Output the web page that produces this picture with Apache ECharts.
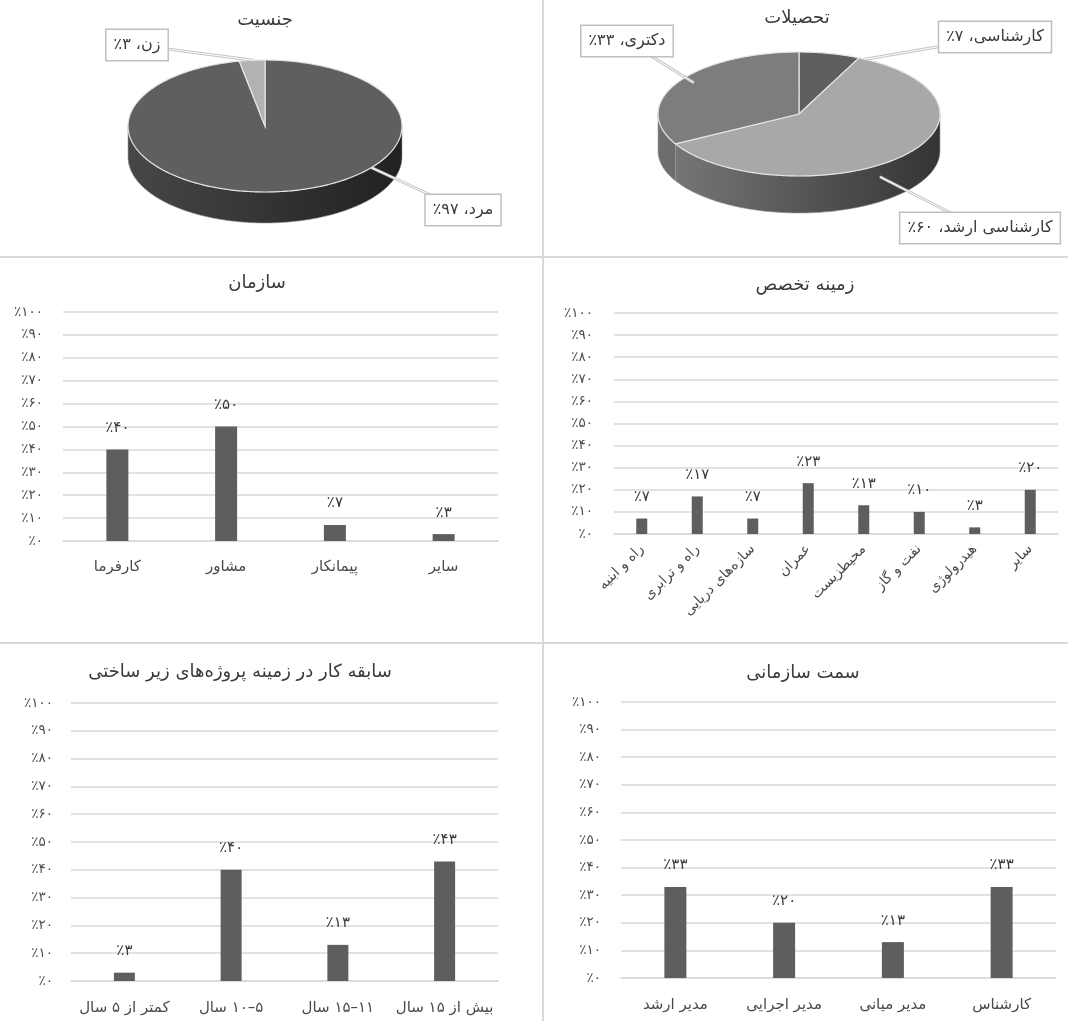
<!DOCTYPE html>
<html><head><meta charset="utf-8">
<script src="https://cdn.jsdelivr.net/npm/echarts@6/dist/echarts.min.js"></script>
<style>html,body{margin:0;padding:0;background:#fff}#c{width:1068px;height:1021px}</style>
</head><body><div id="c"></div>
<script>
const FONT = 'DejaVu Sans';

// ---- data ----
const genderCats = ['مرد', 'زن'];
const genderVals = [97, 3];
const eduCats = ['کارشناسی', 'کارشناسی ارشد', 'دکتری'];
const eduVals = [7, 60, 33];
const orgCats = ['کارفرما', 'مشاور', 'پیمانکار', 'سایر'];
const orgVals = [40, 50, 7, 3];
const fieldCats = ['راه و ابنیه', 'راه و ترابری', 'سازه‌های دریایی', 'عمران', 'محیطزیست', 'نفت و گاز', 'هیدرولوژی', 'سایر'];
const fieldVals = [7, 17, 7, 23, 13, 10, 3, 20];
const expCats = ['کمتر از ۵ سال', '\u200F۵–۱۰ سال', '\u200F۱۱–۱۵ سال', 'بیش از ۱۵ سال'];
const expVals = [3, 40, 13, 43];
const posCats = ['مدیر ارشد', 'مدیر اجرایی', 'مدیر میانی', 'کارشناس'];
const posVals = [33, 20, 13, 33];
const titles = ['جنسیت', 'تحصیلات', 'سازمان', 'زمینه تخصص', 'سابقه کار در زمینه پروژه‌های زیر ساختی', 'سمت سازمانی'];

function fa(n) { return String(n).replace(/\d/g, d => '۰۱۲۳۴۵۶۷۸۹'[+d]); }
function pct(n) { return '٪' + fa(n); }

// ---- layout / style (not data) ----
const genderGeom = {cx: 265, cy: 126, rx: 137, ry: 66, depth: 31};
const eduGeom = {cx: 799, cy: 114, rx: 141, ry: 62, depth: 37};
const genderStyle = {
  top: ['#5f5f5f', '#b2b2b2'],
  side: [['#474747', '#212121'], ['#8a8a8a', '#8a8a8a']],
  labels: [{ang: 129, frac: 1, drop: 0, box: [463, 210]}, {ang: 355, frac: 1, drop: 0, box: [137, 45]}]
};
const eduStyle = {
  top: ['#5f5f5f', '#a8a8a8', '#7d7d7d'],
  side: [['#404040', '#404040'], ['#7a7a7a', '#343434'], ['#6e6e6e', '#5a5a5a']],
  labels: [{ang: 28, frac: 1, drop: 0, box: [995, 37]}, {ang: 145, frac: 1, drop: 12, box: [980, 228]}, {ang: 304, frac: 0.9, drop: 0, box: [627, 41]}]
};

function makePie(cats, vals, g, st) {
  const total = vals.reduce((a, b) => a + b, 0);
  const starts = []; let acc = 0;
  vals.forEach(v => { starts.push(acc / total * 360); acc += v; });
  const P = (t, f = 1, dy = 0) => {
    const r = t * Math.PI / 180;
    return [g.cx + f * g.rx * Math.sin(r), g.cy - f * g.ry * Math.cos(r) + dy];
  };
  return {
    type: 'custom', coordinateSystem: 'none', silent: true,
    data: vals.map((v, i) => ({value: v, name: cats[i]})),
    renderItem(params, api) {
      const i = params.dataIndex;
      const v = api.value(0);
      const a = starts[i], b = a + v / total * 360;
      const children = [];
      const lo = Math.max(a, 90), hi = Math.min(b, 270);
      if (hi > lo) {
        const top = [];
        for (let t = lo; t < hi; t += 1) top.push(P(t));
        top.push(P(hi));
        const bot = [];
        for (let k = top.length - 1; k >= 0; k--) bot.push([top[k][0], top[k][1] + g.depth]);
        children.push({type: 'polygon', z2: 1, shape: {points: top.concat(bot)},
          style: {fill: new echarts.graphic.LinearGradient(g.cx - g.rx, 0, g.cx + g.rx, 0,
            [{offset: 0, color: st.side[i][0]}, {offset: 1, color: st.side[i][1]}], true),
            stroke: '#9a9a9a', lineWidth: 0.6}});
      }
      const pts = [[g.cx, g.cy]];
      for (let t = a; t < b; t += 1) pts.push(P(t));
      pts.push(P(b));
      children.push({type: 'polygon', z2: 2, shape: {points: pts},
        style: {fill: st.top[i], stroke: '#e4e4e4', lineWidth: 1.2}});
      const L = st.labels[i];
      const an = P(L.ang, L.frac, L.drop);
      const ln = {x1: an[0], y1: an[1], x2: L.box[0], y2: L.box[1]};
      children.push({type: 'line', z2: 8, shape: ln, style: {stroke: '#c4c4c4', lineWidth: 3}});
      children.push({type: 'line', z2: 9, shape: ln, style: {stroke: '#ffffff', lineWidth: 1}});
      children.push({type: 'text', z2: 10, x: L.box[0], y: L.box[1],
        style: {text: pct(v) + ' ،' + cats[i], align: 'center', verticalAlign: 'middle',
          fill: '#3a3a3a', font: '16px "' + FONT + '"', backgroundColor: '#ffffff',
          borderColor: '#bfbfbf', borderWidth: 1.5, padding: [8, 7, 6, 7]}});
      return {type: 'group', children};
    }
  };
}

function xAx(idx, cats, labelExtra) {
  return {type: 'category', gridIndex: idx, data: cats,
    axisLine: {show: true, lineStyle: {color: '#d9d9d9', width: 1.5}},
    axisTick: {show: false},
    axisLabel: Object.assign({interval: 0, color: '#4a4a4a', fontSize: 15, fontFamily: FONT, margin: 20}, labelExtra || {})};
}
function yAx(idx, margin) {
  return {type: 'value', gridIndex: idx, min: 0, max: 100, interval: 10,
    axisLine: {show: false}, axisTick: {show: false},
    splitLine: {lineStyle: {color: '#d9d9d9', width: 1.5}},
    axisLabel: {formatter: v => pct(v), color: '#4d4d4d', fontSize: 13.5, fontFamily: FONT, margin: margin}};
}
function barSeries(idx, vals, w) {
  return {type: 'bar', xAxisIndex: idx, yAxisIndex: idx, data: vals, barWidth: w, silent: true,
    itemStyle: {color: '#5e5e5e'},
    label: {show: true, position: 'top', distance: 14, formatter: p => pct(p.value),
      color: '#3a3a3a', fontSize: 15, fontFamily: FONT}};
}

const titlePos = [[265, 20], [797, 18], [257, 283], [805, 285], [240, 672], [803, 673]];
const graphics = [
  {type: 'line', shape: {x1: 543, y1: 0, x2: 543, y2: 1021}, style: {stroke: '#d9d9d9', lineWidth: 2}, silent: true},
  {type: 'line', shape: {x1: 0, y1: 257, x2: 1068, y2: 257}, style: {stroke: '#d9d9d9', lineWidth: 2}, silent: true},
  {type: 'line', shape: {x1: 0, y1: 643, x2: 1068, y2: 643}, style: {stroke: '#d9d9d9', lineWidth: 2}, silent: true}
].concat(titles.map((t, i) => ({type: 'text', x: titlePos[i][0], y: titlePos[i][1], silent: true,
  style: {text: t, align: 'center', verticalAlign: 'middle', fill: '#3a3a3a', font: '18px "' + FONT + '"'}})));

const chart = echarts.init(document.getElementById('c'), null, {renderer: 'canvas'});
chart.setOption({
  animation: false,
  backgroundColor: '#ffffff',
  textStyle: {fontFamily: FONT},
  grid: [
    {left: 63, top: 312, width: 435, height: 229, containLabel: false, outerBoundsMode: 'none'},
    {left: 614, top: 313, width: 444, height: 221, containLabel: false, outerBoundsMode: 'none'},
    {left: 71, top: 703, width: 427, height: 278, containLabel: false, outerBoundsMode: 'none'},
    {left: 621, top: 702, width: 435, height: 276, containLabel: false, outerBoundsMode: 'none'}
  ],
  xAxis: [
    xAx(0, orgCats, {margin: 19}),
    xAx(1, fieldCats, {rotate: 45, fontSize: 14, margin: 13}),
    xAx(2, expCats, {margin: 20}),
    xAx(3, posCats, {margin: 20})
  ],
  yAxis: [yAx(0, 20), yAx(1, 21), yAx(2, 18), yAx(3, 20)],
  series: [
    makePie(genderCats, genderVals, genderGeom, genderStyle),
    makePie(eduCats, eduVals, eduGeom, eduStyle),
    barSeries(0, orgVals, 22),
    barSeries(1, fieldVals, 11),
    barSeries(2, expVals, 21),
    barSeries(3, posVals, 22)
  ],
  graphic: graphics
});
</script></body></html>
